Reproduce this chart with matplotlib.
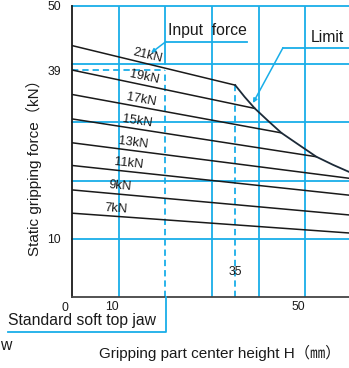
import numpy as np
import matplotlib.pyplot as plt
from matplotlib.lines import Line2D

plt.rcParams['font.family'] = ['Liberation Sans', 'Noto Sans CJK JP', 'DejaVu Sans']

# Input force lines: value at H=0 and end point (on limit curve or at right edge)
forces = ['21kN', '19kN', '17kN', '15kN', '13kN', '11kN', '9kN', '7kN']
f_at_zero = [43.2, 39.0, 34.8, 30.6, 26.5, 22.6, 18.4, 14.4]
h_end = [35.0, 39.2, 44.9, 52.4, 59.4, 59.4, 59.4, 59.4]
f_end = [36.4, 32.4, 28.2, 24.1, 20.4, 17.5, 14.1, 11.0]
label_h = [15.9, 15.2, 14.6, 13.7, 12.9, 12.0, 10.1, 9.4]

# Limit curve
limit_h = [35, 37, 39.2, 42, 44.9, 48, 52.4, 56, 59.4]
limit_f = [36.4, 34.4, 32.4, 30.3, 28.2, 26.5, 24.1, 22.7, 21.5]

h_mark = 35      # dashed H marker
h_std = 20       # standard soft top jaw height
f_std = 39       # force at standard jaw, 21kN

W, H = 349, 368
BLUE = '#19aee8'
INK = '#1a1a1a'
BLW = 1.3
DASH = (0, (3.5, 2.2))


def px(x, y):
    """pixel (top-left origin) -> figure fraction"""
    return x / W, 1 - y / H


fig = plt.figure(figsize=(W / 100, H / 100), dpi=100)
ax = fig.add_axes([72 / W, 1 - 297 / H, 1 - 72 / W, (297 - 6) / H])
ax.set_xlim(0, 59.4)
ax.set_ylim(0, 50)

# grid
for y in [10, 20, 30, 40, 50]:
    ax.axhline(y, color=BLUE, lw=BLW, zorder=1, clip_on=False)
for x in [10, 30, 40, 50]:
    ax.axvline(x, color=BLUE, lw=BLW, zorder=1)
ax.plot([h_std, h_std], [40, 50], color=BLUE, lw=BLW, zorder=1)
ax.plot([h_std, h_std], [0, f_std], color=BLUE, lw=BLW, ls=DASH, zorder=1)
ax.plot([0, h_std], [f_std, f_std], color=BLUE, lw=BLW, ls=DASH, zorder=1)
ax.plot([h_mark, h_mark], [0, f_end[0]], color=BLUE, lw=BLW, ls=DASH, zorder=1)

# force lines
for name, f0, he, fe, lh in zip(forces, f_at_zero, h_end, f_end, label_h):
    ax.plot([0, he], [f0, fe], color=INK, lw=1.1, zorder=3)
    slope = (fe - f0) / he
    ang = np.degrees(np.arctan(slope))
    ax.text(lh, f0 + slope * lh + 0.3, name, fontsize=9.2, ha='center', va='bottom',
            rotation=ang, rotation_mode='anchor', transform_rotates_text=True,
            color=INK, zorder=4)

ax.plot(limit_h, limit_f, color='#1c2a38', lw=1.3, zorder=3, clip_on=True)

# axes styling
for s in ['top', 'right']:
    ax.spines[s].set_visible(False)
ax.spines['left'].set_color(INK)
ax.spines['left'].set_linewidth(1.3)
ax.spines['bottom'].set_color('#444444')
ax.spines['bottom'].set_linewidth(1.3)
ax.set_yticks([10, f_std, 50])
ax.set_yticklabels(['10', str(f_std), '50'], fontsize=8.8, color=INK)
ax.set_xticks([10, 50])
ax.set_xticklabels(['10', '50'], fontsize=8.8, ha='right', color=INK)
ax.tick_params(length=0, pad=3)
ax.tick_params(axis='y', pad=8)
ax.text(-1.5, -0.8, '0', fontsize=8.8, ha='center', va='top', color=INK)
ax.text(h_mark, 4.3, str(h_mark), fontsize=8.8, ha='center', va='center', color=INK)

# callouts
arrow = dict(arrowstyle='-|>', color=BLUE, lw=1.1, mutation_scale=6, shrinkA=0, shrinkB=0)
fig.text(*px(168, 31), 'Input  force', fontsize=11.3, ha='left', va='center', color=INK)
fig.add_artist(Line2D([166 / W, 247 / W], [1 - 41.5 / H] * 2, color=BLUE, lw=BLW))
ax.annotate('', xy=px(151, 53), xycoords='figure fraction',
            xytext=px(166, 41.5), textcoords='figure fraction', arrowprops=arrow)

fig.text(*px(311, 37.5), 'Limit', fontsize=11.3, ha='left', va='center', color=INK,
         bbox=dict(facecolor='white', edgecolor='none', pad=1.5))
fig.add_artist(Line2D([283 / W, 1.0], [1 - 47.7 / H] * 2, color=BLUE, lw=BLW))
ax.annotate('', xy=px(253, 103), xycoords='figure fraction',
            xytext=px(283, 47.7), textcoords='figure fraction', arrowprops=arrow)

# standard soft top jaw bracket
fig.text(*px(8, 320), 'Standard soft top jaw', fontsize=11.3, ha='left', va='center',
         color=INK)
fig.add_artist(Line2D([8 / W, 166 / W, 166 / W],
                      [1 - 332 / H, 1 - 332 / H, 1 - 297 / H], color=BLUE, lw=BLW))
fig.text(*px(0, 345), 'w', fontsize=11.3, ha='left', va='center', color=INK)

# axis labels
fig.text(*px(219.5, 352.5), 'Gripping part center height H（㎜）', fontsize=11,
         ha='center', va='center', color=INK)
fig.text(*px(33.5, 164), 'Static gripping force（kN）', fontsize=11,
         ha='center', va='center', rotation=90, color=INK)

fig.savefig('out.png', dpi=100)
